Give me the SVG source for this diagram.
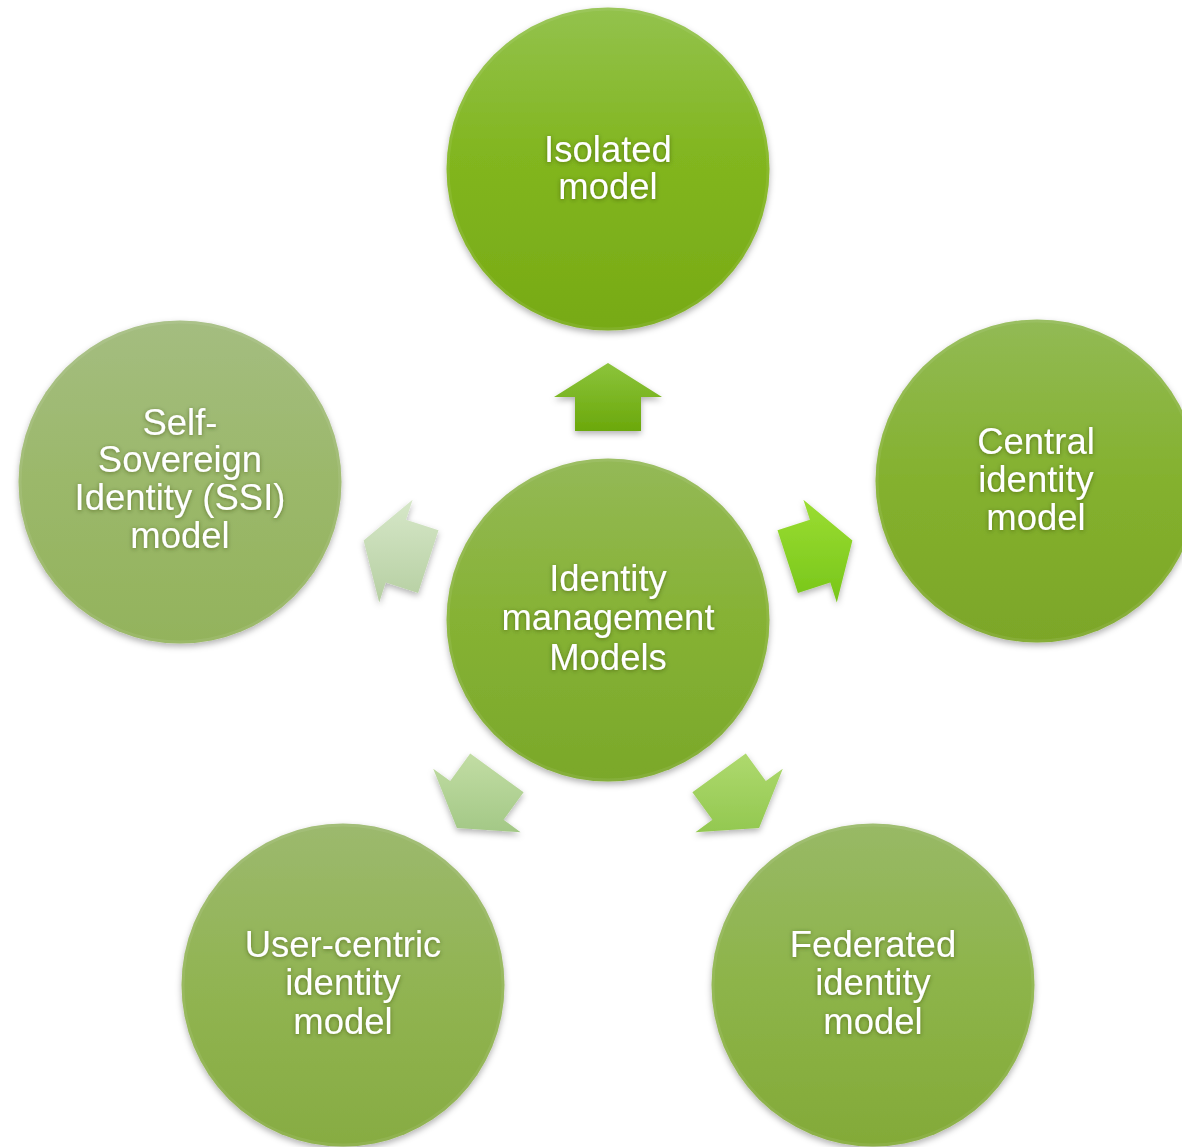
<svg xmlns="http://www.w3.org/2000/svg" width="1182" height="1147" viewBox="0 0 1182 1147">
  <defs>
    <linearGradient id="gTop" x1="0" y1="0" x2="0" y2="1">
      <stop offset="0" stop-color="#93c24d"/>
      <stop offset="0.45" stop-color="#82b620"/>
      <stop offset="1" stop-color="#77aa15"/>
    </linearGradient>
    <linearGradient id="gCenter" x1="0" y1="0" x2="0" y2="1">
      <stop offset="0" stop-color="#94b957"/>
      <stop offset="0.5" stop-color="#86b234"/>
      <stop offset="1" stop-color="#7aa82a"/>
    </linearGradient>
    <linearGradient id="gRight" x1="0" y1="0" x2="0" y2="1">
      <stop offset="0" stop-color="#92ba55"/>
      <stop offset="0.5" stop-color="#84b12e"/>
      <stop offset="1" stop-color="#7ca628"/>
    </linearGradient>
    <linearGradient id="gSsi" x1="0" y1="0" x2="0" y2="1">
      <stop offset="0" stop-color="#a4bd80"/>
      <stop offset="0.5" stop-color="#9bb86a"/>
      <stop offset="1" stop-color="#93b35c"/>
    </linearGradient>
    <linearGradient id="gBl" x1="0" y1="0" x2="0" y2="1">
      <stop offset="0" stop-color="#9cb96e"/>
      <stop offset="0.5" stop-color="#91b452"/>
      <stop offset="1" stop-color="#87ac42"/>
    </linearGradient>
    <linearGradient id="gBr" x1="0" y1="0" x2="0" y2="1">
      <stop offset="0" stop-color="#98b966"/>
      <stop offset="0.5" stop-color="#8db449"/>
      <stop offset="1" stop-color="#83aa38"/>
    </linearGradient>
    <linearGradient id="aTop" x1="0" y1="0" x2="0" y2="1">
      <stop offset="0" stop-color="#8cc43c"/>
      <stop offset="1" stop-color="#6ba80b"/>
    </linearGradient>
    <linearGradient id="aRight" x1="0" y1="0" x2="0" y2="1">
      <stop offset="0" stop-color="#9bdd32"/>
      <stop offset="1" stop-color="#78c61a"/>
    </linearGradient>
    <linearGradient id="aBr" x1="0" y1="0" x2="0" y2="1">
      <stop offset="0" stop-color="#aed96e"/>
      <stop offset="1" stop-color="#93c850"/>
    </linearGradient>
    <linearGradient id="aBl" x1="0" y1="0" x2="0" y2="1">
      <stop offset="0" stop-color="#c2dda4"/>
      <stop offset="1" stop-color="#a3c886"/>
    </linearGradient>
    <linearGradient id="aLeft" x1="0" y1="0" x2="0" y2="1">
      <stop offset="0" stop-color="#d6e7c8"/>
      <stop offset="1" stop-color="#b6cfa2"/>
    </linearGradient>
    <filter id="shadow" x="-20%" y="-20%" width="140%" height="150%">
      <feDropShadow dx="0" dy="3" stdDeviation="3" flood-color="#000" flood-opacity="0.3"/>
    </filter>
    <filter id="tshadow" x="-20%" y="-30%" width="140%" height="160%">
      <feDropShadow dx="0" dy="1" stdDeviation="2" flood-color="#2d4010" flood-opacity="0.55"/>
    </filter>
  </defs>
  <style>
    .circ { filter: url(#shadow); }
    .rim { fill: none; stroke: #ffffff; stroke-opacity: 0.08; stroke-width: 3; }
    .lbl { font-family: "Liberation Sans", Arial, sans-serif; font-size: 36.5px; fill: #ffffff; text-anchor: middle; filter: url(#tshadow); }
    .arrow { filter: url(#shadow); }
  </style>
  <rect width="1182" height="1147" fill="#ffffff"/>

  <g id="connectors">
    <polygon class="arrow" fill="url(#aTop)" points="608,363 662,397 641,397 641,431 575,431 575,397 554,397"/>
    <polygon class="arrow" fill="url(#aRight)" points="852.4,540.6 836.8,602.4 830.3,582.5 797.9,593.0 777.5,530.2 809.9,519.7 803.4,499.7"/>
    <polygon class="arrow" fill="url(#aBr)" points="759.1,827.9 695.4,832.2 712.4,819.8 692.4,792.3 745.8,753.5 765.8,781.0 782.8,768.7"/>
    <polygon class="arrow" fill="url(#aBl)" points="456.9,827.9 433.2,768.7 450.2,781.0 470.2,753.5 523.6,792.3 503.6,819.8 520.6,832.2"/>
    <polygon class="arrow" fill="url(#aLeft)" points="363.6,540.6 412.6,499.7 406.1,519.7 438.5,530.2 418.1,593.0 385.7,582.5 379.2,602.4"/>
  </g>

  <g id="node-center">
    <circle class="circ" cx="608" cy="620" r="161.5" fill="url(#gCenter)"/>
    <circle class="rim" cx="608" cy="620" r="160"/>
    <text class="lbl" x="608" y="591">Identity</text>
    <text class="lbl" x="608" y="630">management</text>
    <text class="lbl" x="608" y="670">Models</text>
  </g>

  <g id="node-isolated">
    <circle class="circ" cx="608" cy="169" r="161.5" fill="url(#gTop)"/>
    <circle class="rim" cx="608" cy="169" r="160"/>
    <text class="lbl" x="608" y="162">Isolated</text>
    <text class="lbl" x="608" y="199">model</text>
  </g>

  <g id="node-central">
    <circle class="circ" cx="1037" cy="481" r="161.5" fill="url(#gRight)"/>
    <circle class="rim" cx="1037" cy="481" r="160"/>
    <text class="lbl" x="1036" y="454">Central</text>
    <text class="lbl" x="1036" y="492">identity</text>
    <text class="lbl" x="1036" y="530">model</text>
  </g>

  <g id="node-federated">
    <circle class="circ" cx="873" cy="985" r="161.5" fill="url(#gBr)"/>
    <circle class="rim" cx="873" cy="985" r="160"/>
    <text class="lbl" x="873" y="957">Federated</text>
    <text class="lbl" x="873" y="995">identity</text>
    <text class="lbl" x="873" y="1034">model</text>
  </g>

  <g id="node-usercentric">
    <circle class="circ" cx="343" cy="985" r="161.5" fill="url(#gBl)"/>
    <circle class="rim" cx="343" cy="985" r="160"/>
    <text class="lbl" x="343" y="957">User-centric</text>
    <text class="lbl" x="343" y="995">identity</text>
    <text class="lbl" x="343" y="1034">model</text>
  </g>

  <g id="node-ssi">
    <circle class="circ" cx="180" cy="482" r="161.5" fill="url(#gSsi)"/>
    <circle class="rim" cx="180" cy="482" r="160"/>
    <text class="lbl" x="180" y="435">Self-</text>
    <text class="lbl" x="180" y="472">Sovereign</text>
    <text class="lbl" x="180" y="510">Identity (SSI)</text>
    <text class="lbl" x="180" y="548">model</text>
  </g>
</svg>
